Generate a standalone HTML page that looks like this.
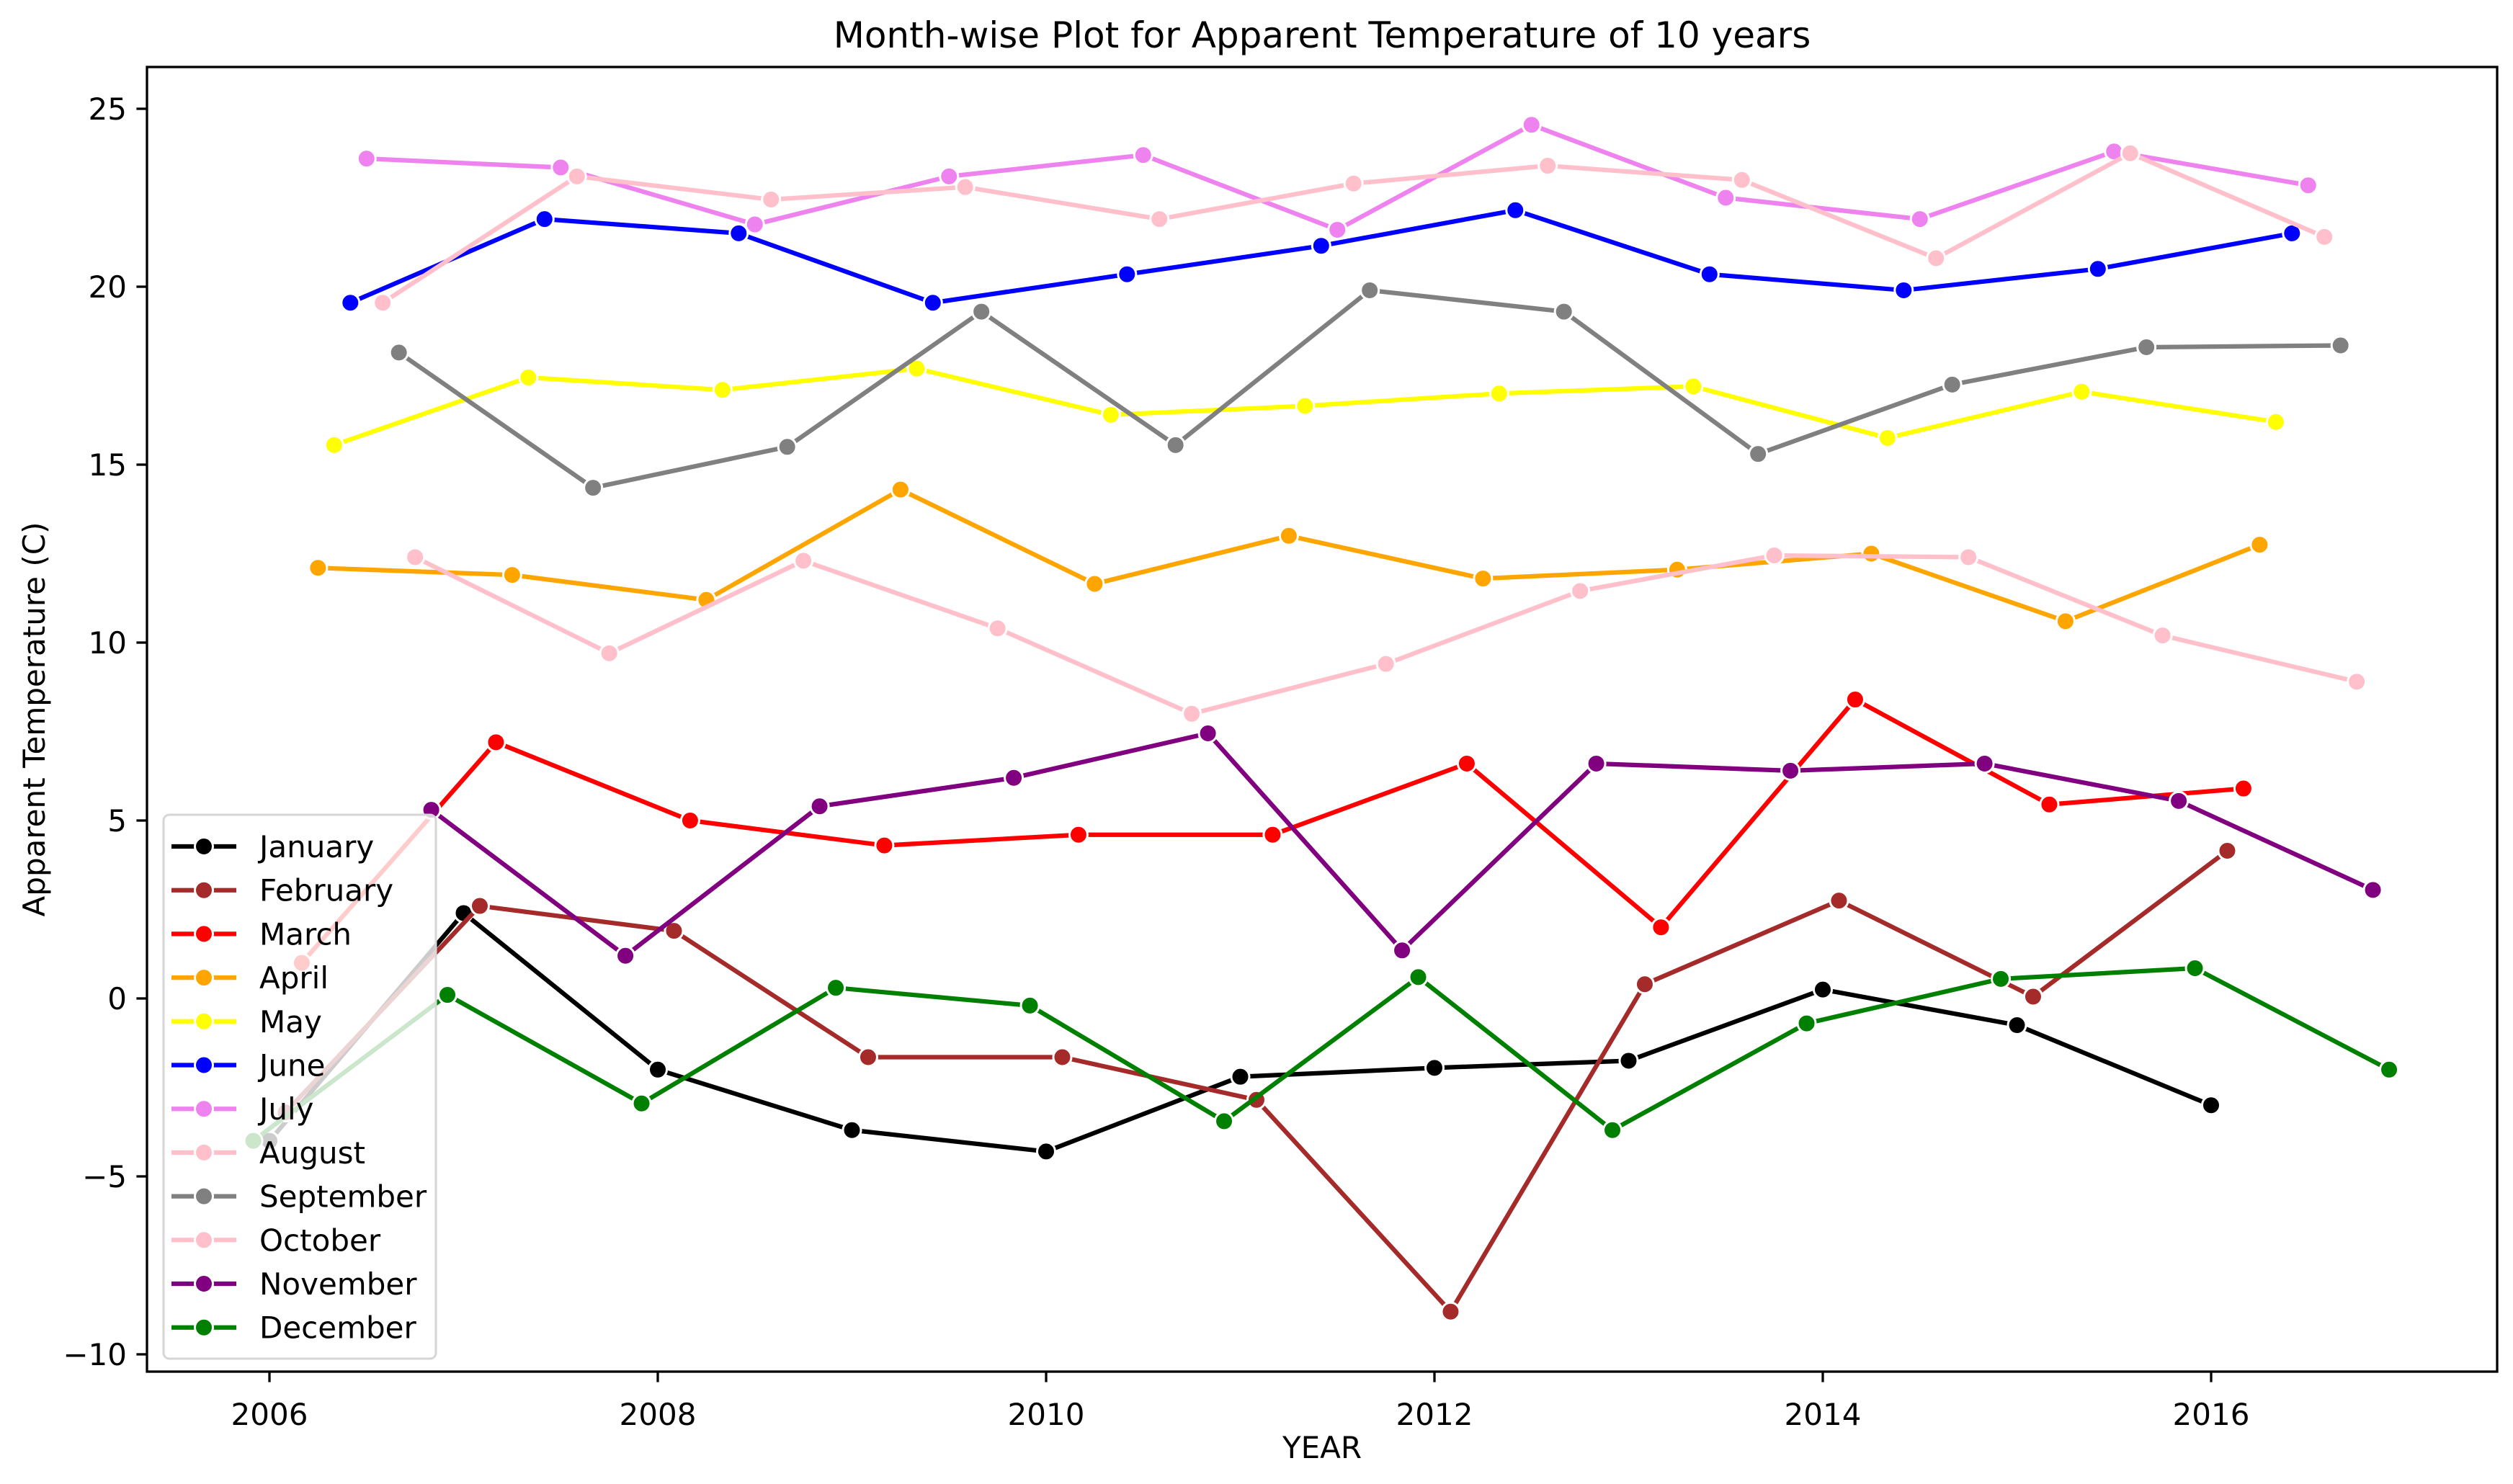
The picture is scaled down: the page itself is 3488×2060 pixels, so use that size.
<!DOCTYPE html>
<html><head><meta charset="utf-8"><style>
html,body{margin:0;padding:0;background:#fff;}
svg{display:block;font-family:"DejaVu Sans","Liberation Sans",sans-serif;}
</style></head><body>
<svg id="chart" width="3488" height="2060" viewBox="0 0 3488 2060" xmlns="http://www.w3.org/2000/svg">
<rect width="3488" height="2060" fill="#fff"/>
<g id="grid"></g>
<g id="series"></g>
<g id="axes"></g>
<g id="legend"></g>
</svg>
<script>
const months = ["January","February","March","April","May","June","July","August","September","October","November","December"];
const colors = ["black","brown","red","orange","yellow","blue","violet","pink","gray","pink","purple","green"];
const startYears = [2006,2006,2006,2006,2006,2006,2006,2006,2006,2006,2006,2005];
const janVals = [-4.0,2.4,-2.0,-3.7,-4.3,-2.2,-1.95,-1.75,0.25,-0.75,-3.0];
const febVals = [-3.2,2.6,1.9,-1.65,-1.65,-2.85,-8.8,0.4,2.75,0.05,4.15];
const marVals = [1.0,7.2,5.0,4.3,4.6,4.6,6.6,2.0,8.4,5.45,5.9];
const aprVals = [12.1,11.9,11.2,14.3,11.65,13.0,11.8,12.05,12.5,10.6,12.75];
const mayVals = [15.55,17.45,17.1,17.7,16.4,16.65,17.0,17.2,15.75,17.05,16.2];
const junVals = [19.55,21.9,21.5,19.55,20.35,21.15,22.15,20.35,19.9,20.5,21.5];
const julVals = [23.6,23.35,21.75,23.1,23.7,21.6,24.55,22.5,21.9,23.8,22.85];
const augVals = [19.55,23.1,22.45,22.8,21.9,22.9,23.4,23.0,20.8,23.75,21.4];
const sepVals = [18.15,14.35,15.5,19.3,15.55,19.9,19.3,15.3,17.25,18.3,18.35];
const octVals = [12.4,9.7,12.3,10.4,8.0,9.4,11.45,12.45,12.4,10.2,8.9];
const novVals = [5.3,1.2,5.4,6.2,7.45,1.35,6.6,6.4,6.6,5.55,3.05];
const decVals = [-4.0,0.1,-2.95,0.3,-0.2,-3.45,0.6,-3.7,-0.7,0.55,0.85,-2.0];
const xTicks = [2006,2008,2010,2012,2014,2016];
const yTicks = [-10,-5,0,5,10,15,20,25];
const allVals = [janVals,febVals,marVals,aprVals,mayVals,junVals,julVals,augVals,sepVals,octVals,novVals,decVals];

const NS="http://www.w3.org/2000/svg";
const L=204,R=3466,T=93,B=1904;
function xs(v){return 374+(v-2006)*269.5;}
function ys(v){return 1386-v*49.4;}
function mk(tag,attrs,parent){const e=document.createElementNS(NS,tag);for(const k in attrs)e.setAttribute(k,attrs[k]);parent.appendChild(e);return e;}
const gS=document.getElementById('series'),gA=document.getElementById('axes'),gL=document.getElementById('legend');

allVals.forEach((vals,m)=>{
  const g=mk('g',{},gS);
  
  
  const pts=vals.map((v,i)=>[xs(startYears[m]+i+m/12),ys(v)]);
  const pl=mk('polyline',{points:pts.map(p=>p.join(',')).join(' '),fill:'none',stroke:colors[m],'stroke-width':6.25,'stroke-linejoin':'round','stroke-linecap':'square'},g);
  
  
  pts.forEach(p=>{
    const c=mk('circle',{cx:p[0],cy:p[1],r:12.5,fill:colors[m],stroke:'#fff','stroke-width':3},g);
    
    
  });
});

// frame
const fr=mk('rect',{x:L,y:T,width:R-L,height:B-T,fill:'none',stroke:'#000','stroke-width':3.3},gA);


xTicks.forEach(t=>{
  const x=xs(t);
  mk('line',{x1:x,y1:B,x2:x,y2:B+14.6,stroke:'#000','stroke-width':3.3},gA);
  const tx=mk('text',{x:x,y:1978,'font-size':42,'text-anchor':'middle'},gA);
  tx.textContent=t;
  
  
});
yTicks.forEach(t=>{
  const y=ys(t);
  mk('line',{x1:L-14.6,y1:y,x2:L,y2:y,stroke:'#000','stroke-width':3.3},gA);
  const tx=mk('text',{x:176,y:y+15,'font-size':42,'text-anchor':'end'},gA);
  tx.textContent=(t<0?'\u2212'+(-t):t);
  
  
});
const ti=mk('text',{x:(L+R)/2,y:66,'font-size':50,'text-anchor':'middle'},gA);
ti.textContent='Month-wise Plot for Apparent Temperature of 10 years';


const xl=mk('text',{x:(L+R)/2,y:2024,'font-size':42,'text-anchor':'middle'},gA);
xl.textContent='YEAR';


const yl=mk('text',{x:0,y:0,'font-size':42,'text-anchor':'middle',transform:'translate(62,'+((T+B)/2)+') rotate(-90)'},gA);
yl.textContent='Apparent Temperature (C)';



// legend
const lb=mk('rect',{x:227,y:1131,width:378,height:755,rx:8,fill:'#fff','fill-opacity':0.8,stroke:'#d6d6d6','stroke-width':3},gL);


months.forEach((m,i)=>{
  const y=1175+i*60.7;
  const g=mk('g',{},gL);
  
  
  mk('line',{x1:238,y1:y,x2:328,y2:y,stroke:colors[i],'stroke-width':6.25},g);
  mk('circle',{cx:283,cy:y,r:12.5,fill:colors[i],stroke:'#fff','stroke-width':3},g);
  const t=mk('text',{x:360,y:y+15,'font-size':42},g);
  t.textContent=m;
});
</script>
</body></html>
